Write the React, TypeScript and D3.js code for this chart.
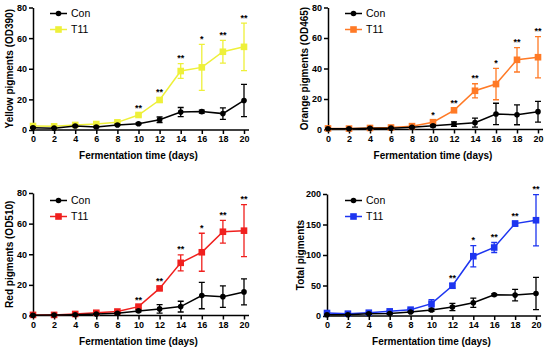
import { useEffect, useRef } from 'react';
import * as d3 from 'd3';

// fermentation days
const days = [0, 2, 4, 6, 8, 10, 12, 14, 16, 18, 20];

// yellow pigments (OD390)
const yellowCon = [1.5, 1.2, 2.6, 2.0, 3.3, 4.1, 6.7, 11.7, 12.0, 10.7, 19.3];
const yellowConErr = [0.3, 0.3, 0.4, 0.4, 0.5, 0.6, 1.8, 3.0, 1.0, 3.8, 10.5];
const yellowT11 = [2.6, 2.4, 3.3, 3.9, 5.0, 9.8, 19.6, 38.5, 40.9, 51.1, 54.3];
const yellowT11Err = [0.3, 0.3, 0.4, 0.4, 0.5, 0.8, 1.5, 4.8, 15.0, 7.4, 15.5];
const yellowStars = ['', '', '', '', '', '**', '**', '**', '*', '**', '**'];

// orange pigments (OD465)
const orangeCon = [0.5, 0.5, 0.8, 0.9, 1.5, 2.4, 3.5, 4.5, 10.2, 9.6, 11.7];
const orangeConErr = [0.2, 0.2, 0.2, 0.3, 0.4, 0.6, 1.5, 3.0, 7.0, 6.5, 6.8];
const orangeT11 = [0.7, 0.6, 1.0, 1.3, 2.2, 4.8, 12.6, 25.4, 29.8, 45.7, 47.4];
const orangeT11Err = [0.2, 0.2, 0.2, 0.3, 0.4, 1.0, 1.0, 4.6, 10.3, 8.0, 13.5];
const orangeStars = ['', '', '', '', '', '*', '**', '**', '*', '**', '**'];

// red pigments (OD510)
const redCon = [0.2, 0.3, 0.5, 0.9, 1.5, 3.0, 4.3, 5.8, 13.0, 12.3, 15.4];
const redConErr = [0.2, 0.2, 0.2, 0.3, 0.4, 0.6, 2.8, 3.5, 8.6, 7.0, 8.5];
const redT11 = [0.4, 0.4, 1.0, 1.8, 2.6, 5.8, 17.7, 34.4, 41.3, 54.7, 55.4];
const redT11Err = [0.2, 0.2, 0.3, 0.3, 0.4, 1.0, 1.0, 5.2, 12.4, 7.4, 17.0];
const redStars = ['', '', '', '', '', '**', '**', '**', '*', '**', '**'];

// total pigments
const totalCon = [2.0, 2.0, 3.8, 4.0, 6.5, 9.8, 14.7, 21.8, 34.9, 34.3, 37.0];
const totalConErr = [0.5, 0.5, 0.8, 0.8, 1.0, 2.0, 6.0, 7.6, 1.5, 9.5, 26.4];
const totalT11 = [4.9, 3.8, 5.4, 7.6, 10.4, 20.2, 49.6, 98.0, 112.3, 151.5, 157.0];
const totalT11Err = [0.8, 0.8, 1.0, 1.2, 1.5, 6.8, 4.0, 17.4, 8.2, 4.0, 42.0];
const totalStars = ['', '', '', '', '', '', '**', '*', '**', '**', '**'];

const seriesNames = ['Con', 'T11'];

interface Panel {
  yLabel: string;
  yMax: number;
  yTicks: number[];
  con: number[];
  conErr: number[];
  t11: number[];
  t11Err: number[];
  stars: string[];
  color: string;
  // layout
  x0: number; x1: number; yTop: number; yBottom: number;
  yTitleX: number; legendX: number; legendY: number;
}

const panels: Panel[] = [
  {
    yLabel: 'Yellow pigments (OD390)', yMax: 80, yTicks: [0, 20, 40, 60, 80],
    con: yellowCon, conErr: yellowConErr, t11: yellowT11, t11Err: yellowT11Err,
    stars: yellowStars, color: '#eef03a',
    x0: 33, x1: 244, yTop: 7.5, yBottom: 130, yTitleX: 9.5, legendX: 50, legendY: 13.5,
  },
  {
    yLabel: 'Orange pigments (OD465)', yMax: 80, yTicks: [0, 20, 40, 60, 80],
    con: orangeCon, conErr: orangeConErr, t11: orangeT11, t11Err: orangeT11Err,
    stars: orangeStars, color: '#ff7a26',
    x0: 328, x1: 538, yTop: 7.5, yBottom: 129.5, yTitleX: 304.5, legendX: 345, legendY: 13.5,
  },
  {
    yLabel: 'Red pigments (OD510)', yMax: 80, yTicks: [0, 20, 40, 60, 80],
    con: redCon, conErr: redConErr, t11: redT11, t11Err: redT11Err,
    stars: redStars, color: '#f0201e',
    x0: 33, x1: 244, yTop: 193, yBottom: 315.5, yTitleX: 9.5, legendX: 50, legendY: 200.5,
  },
  {
    yLabel: 'Total pigments', yMax: 200, yTicks: [0, 50, 100, 150, 200],
    con: totalCon, conErr: totalConErr, t11: totalT11, t11Err: totalT11Err,
    stars: totalStars, color: '#1d35f0',
    x0: 327, x1: 536, yTop: 194, yBottom: 316, yTitleX: 300, legendX: 345, legendY: 200.5,
  },
];

const font = 'Liberation Sans, Arial, Helvetica, sans-serif';

const App: React.FC = () => {
  const svgRef = useRef<SVGSVGElement | null>(null);
  const width = 550;
  const height = 353;

  useEffect(() => {
    const svg = d3.select(svgRef.current);
    svg.selectAll('*').remove();

    panels.forEach((p) => {
      const g = svg.append('g');
      const x = d3.scaleLinear().domain([0, 20]).range([p.x0, p.x1]);
      const y = d3.scaleLinear().domain([0, p.yMax]).range([p.yBottom, p.yTop]);

      // axes
      const xAxis = g.append('g')
        .attr('transform', `translate(0,${p.yBottom})`)
        .call(d3.axisBottom(x).tickValues(days).tickSize(4).tickPadding(2).tickSizeOuter(0));
      xAxis.select('.domain').attr('d', `M${p.x0},0H${p.x1 + 5}`);

      g.append('g')
        .attr('transform', `translate(${p.x0},0)`)
        .call(d3.axisLeft(y).tickValues(p.yTicks).tickSize(4).tickPadding(2).tickSizeOuter(0));

      g.selectAll('.domain, .tick line').attr('stroke', '#000').attr('stroke-width', 1.5);
      g.selectAll('.tick text')
        .attr('fill', '#000')
        .style('font-family', font)
        .style('font-size', '9px')
        .style('font-weight', 'bold');

      // titles
      g.append('text')
        .attr('x', (p.x0 + p.x1) / 2)
        .attr('y', p.yBottom + 29)
        .attr('text-anchor', 'middle')
        .style('font-family', font)
        .style('font-size', '10px')
        .style('font-weight', 'bold')
        .text('Fermentation time (days)');

      g.append('text')
        .attr('transform', `translate(${p.yTitleX + 3.5},${(p.yTop + p.yBottom) / 2}) rotate(-90)`)
        .attr('text-anchor', 'middle')
        .style('font-family', font)
        .style('font-size', '10px')
        .style('font-weight', 'bold')
        .text(p.yLabel);

      const line = d3.line<number>()
        .x((_, i) => x(days[i]))
        .y((d) => y(d));

      const drawSeries = (vals: number[], errs: number[], color: string, square: boolean) => {
        const s = g.append('g');
        // error bars
        vals.forEach((v, i) => {
          const cx = x(days[i]);
          const top = y(v + errs[i]);
          const bot = y(Math.max(0, v - errs[i]));
          s.append('path')
            .attr('d', `M${cx},${top}V${bot}M${cx - 3},${top}H${cx + 3}M${cx - 3},${bot}H${cx + 3}`)
            .attr('stroke', color)
            .attr('stroke-width', 1.3)
            .attr('fill', 'none');
        });
        s.append('path')
          .datum(vals)
          .attr('d', line)
          .attr('fill', 'none')
          .attr('stroke', color)
          .attr('stroke-width', 1.5);
        vals.forEach((v, i) => {
          if (square) {
            s.append('rect')
              .attr('x', x(days[i]) - 3.3)
              .attr('y', y(v) - 3.3)
              .attr('width', 6.6)
              .attr('height', 6.6)
              .attr('fill', color);
          } else {
            s.append('circle')
              .attr('cx', x(days[i]))
              .attr('cy', y(v))
              .attr('r', 2.8)
              .attr('fill', color);
          }
        });
      };

      drawSeries(p.t11, p.t11Err, p.color, true);
      drawSeries(p.con, p.conErr, '#000', false);

      // significance marks
      p.stars.forEach((st, i) => {
        if (!st) return;
        g.append('text')
          .attr('x', x(days[i]))
          .attr('y', y(p.t11[i] + p.t11Err[i]) - 2.5)
          .attr('text-anchor', 'middle')
          .style('font-family', font)
          .style('font-size', '9px')
          .style('font-weight', 'bold')
          .text(st);
      });

      // legend
      const colors = ['#000', p.color];
      seriesNames.forEach((name, k) => {
        const ly = p.legendY + k * 16;
        const lg = g.append('g');
        lg.append('line')
          .attr('x1', p.legendX).attr('x2', p.legendX + 17)
          .attr('y1', ly).attr('y2', ly)
          .attr('stroke', colors[k]).attr('stroke-width', 1.5);
        if (k === 0) {
          lg.append('circle').attr('cx', p.legendX + 8.5).attr('cy', ly).attr('r', 2.8).attr('fill', colors[k]);
        } else {
          lg.append('rect').attr('x', p.legendX + 5.2).attr('y', ly - 3.3)
            .attr('width', 6.6).attr('height', 6.6).attr('fill', colors[k]);
        }
        lg.append('text')
          .attr('x', p.legendX + 21)
          .attr('y', ly + 3.8)
          .style('font-family', font)
          .style('font-size', '10.5px')
          .text(name);
      });
    });
  }, []);

  return (
    <svg
      ref={svgRef}
      width={width}
      height={height}
      style={{ position: 'absolute', left: 0, top: 0, background: '#fff' }}
    />
  );
};

export default App;
